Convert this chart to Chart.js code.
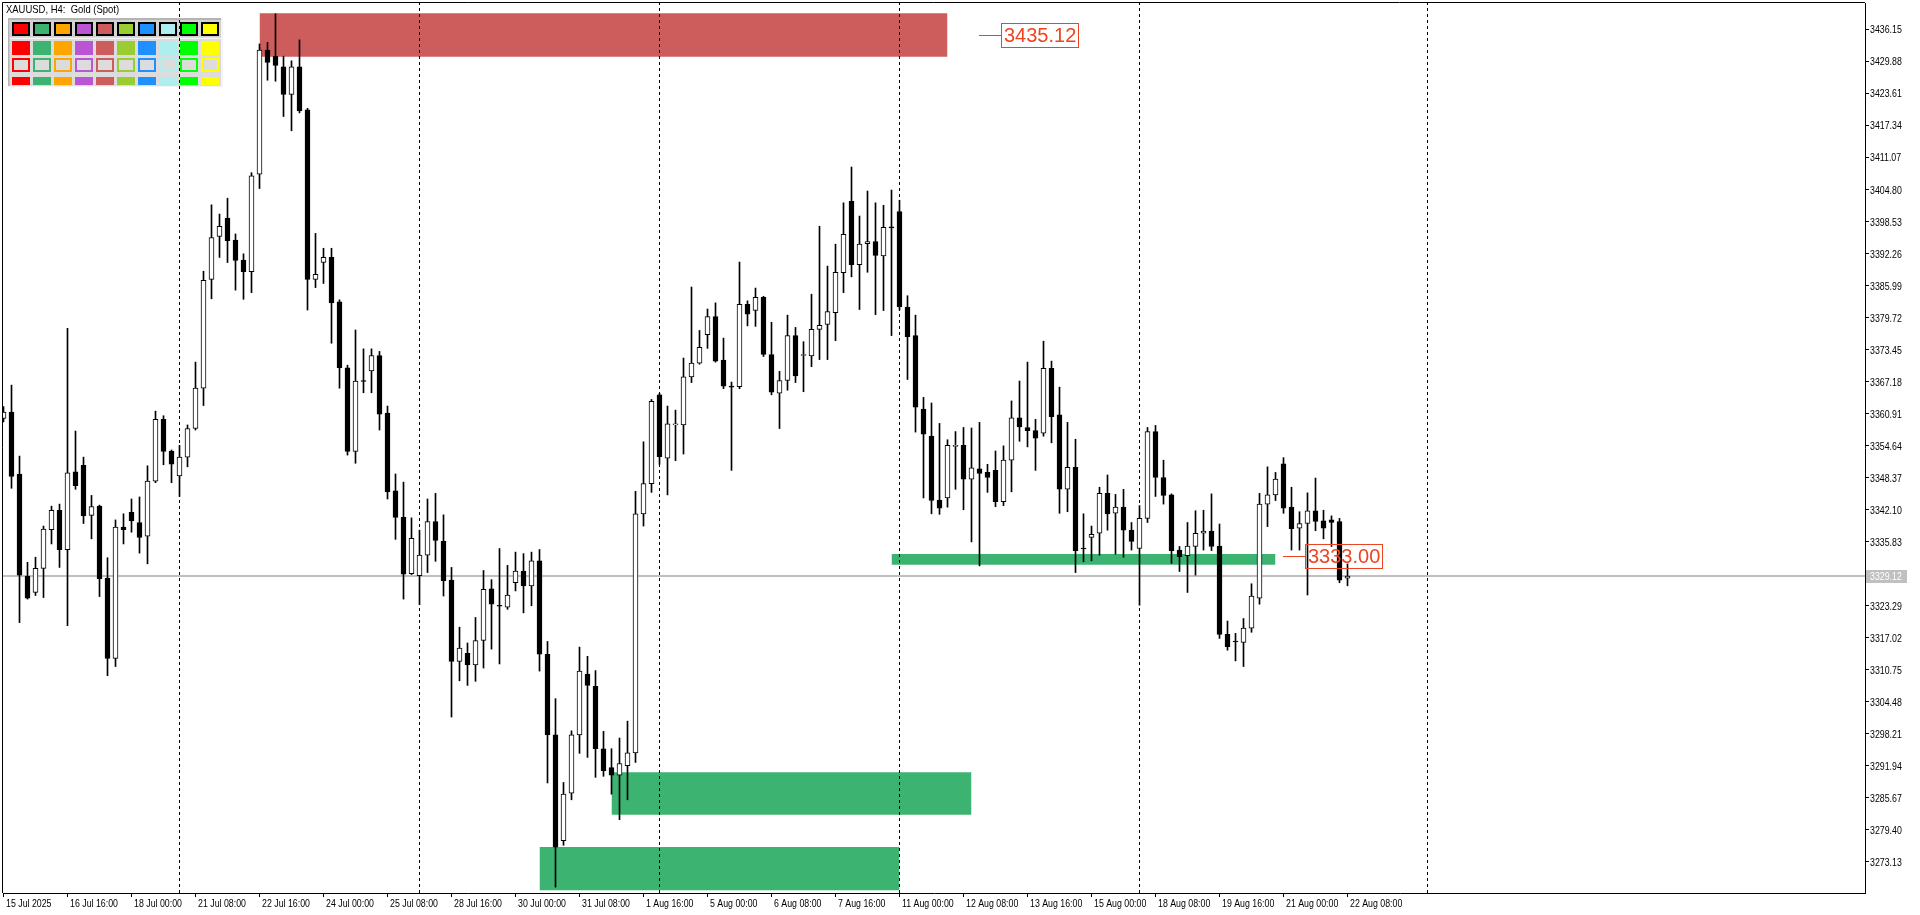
<!DOCTYPE html>
<html><head><meta charset="utf-8">
<script src="https://cdn.jsdelivr.net/npm/chart.js@4.4.1/dist/chart.umd.min.js"></script>
<style>html,body{margin:0;padding:0;background:#fff;overflow:hidden}canvas{display:block}</style>
</head><body>
<canvas id="c" width="1920" height="915"></canvas>
<script>
// ---- DATA (XAUUSD H4, one value per bar) ----
const opens = [
3360.0,3361.2,3349.1,3329.1,3325.9,3330.6,3338.2,3342.0,3334.3,3349.5,
3350.8,3341.0,3342.8,3328.7,3313.0,3338.7,3341.6,3339.6,3336.9,3347.7,
3359.8,3353.6,3348.7,3352.4,3358.0,3365.9,3387.2,3395.6,3399.2,3394.9,
3391.0,3388.7,3407.8,3432.1,3430.9,3428.8,3423.4,3428.8,3420.4,3387.2,
3390.5,3391.5,3382.8,3369.9,3353.5,3367.4,3369.3,3372.3,3361.0,3345.8,
3340.6,3329.6,3329.2,3333.2,3339.8,3335.9,3328.3,3312.4,3314.0,3311.7,
3316.5,3326.6,3323.4,3323.0,3327.8,3330.1,3327.2,3332.1,3313.8,3298.0,
3277.3,3286.6,3298.0,3309.9,3307.5,3295.3,3291.6,3290.1,3292.0,3294.5,
3341.3,3347.2,3364.6,3352.2,3358.7,3358.7,3368.1,3370.8,3376.4,3379.9,
3371.4,3366.3,3366.2,3382.3,3381.1,3383.7,3372.5,3364.9,3367.4,3376.2,
3372.3,3372.2,3377.4,3378.4,3380.7,3388.5,3402.5,3390.1,3394.2,3394.6,
3391.8,3397.5,3400.5,3381.8,3376.2,3361.8,3356.5,3344.0,3344.4,3354.5,
3354.7,3348.1,3350.1,3349.4,3349.8,3343.7,3351.8,3360.1,3358.2,3357.6,
3357.1,3369.8,3360.7,3346.1,3350.4,3334.6,3336.7,3337.5,3345.3,3341.4,
3342.6,3338.1,3334.5,3340.4,3357.4,3348.4,3345.0,3334.2,3333.1,3334.9,
3337.5,3337.9,3335.0,3317.7,3316.4,3316.1,3318.9,3324.8,3343.2,3345.0,
3351.1,3342.6,3338.5,3339.4,3341.9,3339.9,3340.1,3339.8,3328.7];
const highs = [
3362.3,3366.5,3352.6,3331.8,3332.8,3338.9,3342.8,3343.2,3377.6,3357.5,
3352.4,3344.9,3343.0,3332.7,3340.1,3341.3,3344.2,3344.6,3350.7,3361.4,
3360.5,3353.8,3354.7,3358.7,3371.0,3388.8,3401.8,3400.0,3403.1,3396.1,
3392.2,3408.1,3433.3,3433.6,3439.2,3430.9,3430.0,3434.1,3420.7,3396.2,
3393.3,3393.3,3383.2,3370.4,3377.3,3373.6,3373.6,3373.1,3362.4,3349.1,
3347.5,3340.5,3338.1,3344.2,3345.3,3341.1,3330.8,3319.1,3316.0,3321.0,
3330.2,3328.4,3334.5,3331.2,3333.8,3333.5,3333.8,3334.3,3316.3,3305.1,
3288.7,3298.8,3315.2,3313.4,3310.6,3298.7,3295.3,3297.4,3300.7,3345.7,
3355.4,3363.7,3364.9,3362.4,3361.6,3371.8,3385.7,3377.2,3381.4,3382.6,
3375.7,3367.1,3390.6,3383.0,3385.5,3383.9,3378.8,3369.2,3380.2,3377.8,
3375.0,3384.3,3397.6,3389.8,3394.1,3402.2,3409.2,3399.6,3404.5,3402.2,
3401.7,3404.7,3402.7,3384.0,3380.2,3364.1,3363.0,3359.0,3355.8,3357.4,
3358.2,3358.1,3359.2,3351.0,3353.6,3354.6,3363.4,3367.3,3371.0,3359.8,
3375.1,3371.2,3366.1,3359.2,3355.9,3341.3,3338.9,3346.5,3348.9,3345.1,
3346.1,3339.6,3342.9,3358.2,3358.6,3351.8,3345.2,3334.9,3339.6,3341.9,
3342.0,3345.2,3339.3,3320.3,3317.9,3320.8,3327.6,3345.3,3350.5,3349.4,
3352.3,3346.5,3341.7,3345.4,3348.3,3342.0,3340.9,3340.4,3331.5];
const lows = [
3359.3,3346.3,3320.0,3324.6,3325.3,3324.9,3335.4,3330.8,3319.4,3346.1,
3339.4,3336.4,3325.1,3309.6,3311.4,3335.4,3337.7,3333.6,3331.5,3347.4,
3350.9,3347.4,3344.7,3350.5,3357.7,3362.5,3383.4,3391.5,3390.5,3385.1,
3383.3,3384.6,3405.0,3426.2,3426.0,3419.1,3416.3,3419.8,3381.2,3385.6,
3386.4,3374.7,3365.9,3352.8,3351.2,3365.0,3365.0,3357.7,3344.2,3336.3,
3324.6,3329.4,3323.5,3329.8,3332.0,3325.2,3301.5,3308.6,3307.7,3308.5,
3311.1,3314.8,3311.9,3322.6,3326.2,3321.9,3323.3,3310.5,3288.6,3268.2,
3276.4,3285.3,3294.4,3293.6,3289.7,3289.9,3286.4,3281.4,3285.3,3292.6,
3338.9,3345.5,3351.0,3345.0,3351.7,3353.0,3367.0,3370.6,3373.7,3371.0,
3365.8,3349.8,3365.8,3378.1,3378.0,3372.1,3364.6,3358.0,3365.5,3367.0,
3365.2,3370.1,3371.5,3371.5,3375.2,3384.6,3387.7,3381.3,3388.6,3380.3,
3381.1,3376.2,3381.2,3367.6,3357.3,3344.4,3341.3,3341.2,3342.6,3346.1,
3342.1,3335.8,3331.1,3345.5,3342.7,3342.9,3345.6,3355.5,3354.4,3349.8,
3356.5,3355.2,3341.4,3341.7,3329.8,3331.9,3332.1,3333.2,3338.1,3333.4,
3332.8,3334.2,3323.4,3339.6,3344.7,3343.2,3331.6,3330.0,3325.9,3329.3,
3334.2,3334.1,3316.9,3314.6,3312.5,3311.4,3318.1,3323.6,3338.8,3343.9,
3341.4,3334.2,3334.2,3325.4,3338.0,3336.4,3334.9,3327.8,3327.2];
const closes = [
3361.2,3348.6,3329.3,3324.8,3330.6,3338.3,3342.0,3334.3,3349.3,3346.8,
3340.9,3342.7,3328.6,3313.0,3338.7,3338.2,3339.9,3336.7,3347.7,3359.8,
3353.5,3351.0,3352.4,3358.0,3365.9,3387.0,3395.4,3397.6,3394.8,3390.9,
3388.7,3407.5,3432.1,3429.7,3429.1,3423.4,3428.8,3420.2,3387.2,3388.2,
3391.5,3382.6,3369.9,3353.5,3367.3,3367.2,3372.3,3360.8,3345.6,3340.6,
3329.5,3336.5,3333.2,3339.8,3336.1,3328.2,3312.4,3315.0,3311.7,3316.5,
3326.5,3323.6,3323.2,3325.4,3330.1,3327.2,3332.1,3313.8,3298.0,3276.0,
3286.4,3298.0,3310.5,3307.7,3295.3,3291.0,3290.1,3292.4,3294.5,3341.3,
3347.2,3363.3,3352.5,3358.9,3358.9,3368.1,3370.8,3373.9,3379.9,3371.2,
3366.3,3366.1,3382.3,3380.4,3383.7,3372.5,3365.1,3367.4,3376.2,3368.3,
3372.5,3377.4,3378.2,3380.9,3388.6,3396.0,3390.1,3394.1,3394.6,3391.9,
3397.4,3397.3,3381.8,3376.0,3362.2,3356.9,3343.9,3342.4,3354.7,3354.7,
3348.1,3350.3,3349.2,3348.4,3343.7,3351.8,3360.1,3358.3,3357.6,3356.1,
3369.8,3360.3,3346.1,3350.4,3334.1,3334.4,3337.3,3345.3,3341.3,3342.6,
3338.1,3335.9,3340.4,3357.4,3348.4,3344.9,3334.1,3332.9,3335.0,3337.5,
3337.9,3334.9,3317.7,3315.3,3316.2,3318.9,3325.2,3343.2,3345.0,3348.1,
3342.4,3338.4,3339.4,3341.9,3339.8,3338.5,3339.6,3328.3,3329.1];

const xTickBars = [0,8,16,24,32,40,48,56,64,72,80,88,96,104,112,120,128,136,144,152,160,168];
const xTickLabels = ["15 Jul 2025","16 Jul 16:00","18 Jul 00:00","21 Jul 08:00","22 Jul 16:00","24 Jul 00:00",
 "25 Jul 08:00","28 Jul 16:00","30 Jul 00:00","31 Jul 08:00","1 Aug 16:00","5 Aug 00:00","6 Aug 08:00",
 "7 Aug 16:00","11 Aug 00:00","12 Aug 08:00","13 Aug 16:00","15 Aug 00:00","18 Aug 08:00","19 Aug 16:00",
 "21 Aug 00:00","22 Aug 08:00"];
const yTickValues = [3436.15,3429.88,3423.61,3417.34,3411.07,3404.80,3398.53,3392.26,3385.99,3379.72,
 3373.45,3367.18,3360.91,3354.64,3348.37,3342.10,3335.83,3323.29,3317.02,3310.75,3304.48,3298.21,
 3291.94,3285.67,3279.40,3273.13];
const lastPrice = 3329.12;
const separatorBars = [22,52,82,112,142,178];

// zones (bar index range and price range)
const zoneStart  = [32, 111, 76, 67];
const zoneEnd    = [118, 159, 121, 112];
const zoneTop    = [3439.3, 3333.45, 3290.7, 3276.05];
const zoneBottom = [3430.8, 3331.3, 3282.35, 3267.57];
const zoneColor  = ['#CD5C5C','#3CB371','#3CB371','#3CB371'];

// price labels
const labelPrices   = [3435.12, 3333.00];
const labelLineFrom = [121.9, 159.9];
const labelBoxFrom  = [124.7, 162.7];

const panelColors = ['#FF0000','#3CB371','#FFA500','#BA55D3','#CD5C5C','#9ACD32','#1E90FF','#AFEEEE','#00FF00','#FFFF00'];

// ---- scale ranges ----
const XMIN = -0.0625, XMAX = 232.6875;
const YMIN = 3267.05, YMAX = 3441.32;

const AX_FONT = "'Liberation Sans', Arial, sans-serif";
const TEXT_SQUEEZE = 0.8;
const TITLE_SQUEEZE = 0.86;
const LABEL_COLOR = '#EE4422';

const bodyData = opens.map((o,i)=>({x:i, y:[o, closes[i]]}));
const wickData = opens.map((o,i)=>({x:i, y:[lows[i], highs[i]]}));
const bodyFill = opens.map((o,i)=> closes[i] >= o ? '#FFFFFF' : '#000000');

const datasets = [
  {type:'bar', data: bodyData, backgroundColor: bodyFill, borderColor:'#000', borderWidth:1,
   borderSkipped:false, barThickness:5, grouped:false, minBarLength:1, order:0},
  {type:'bar', data: wickData, backgroundColor:'#000', borderWidth:0, barThickness:1, grouped:false, order:1},
  {type:'line', data:[{x:XMIN,y:lastPrice},{x:XMAX,y:lastPrice}], borderColor:'#C0C0C0', borderWidth:2,
   pointRadius:0, fill:false, order:2}
];
separatorBars.forEach(b=>{
  datasets.push({type:'line', data:[{x:b,y:YMIN},{x:b,y:YMAX}], borderColor:'#000', borderWidth:1,
    borderDash:[3,3], pointRadius:0, fill:false, order:3});
});
zoneStart.forEach((s,k)=>{
  datasets.push({type:'line', data:[{x:s,y:zoneTop[k]},{x:zoneEnd[k],y:zoneTop[k]}],
    borderColor:'rgba(0,0,0,0)', borderWidth:1, pointRadius:0, backgroundColor:zoneColor[k],
    fill:{value: zoneBottom[k]}, order:4});
});

function squeezedText(ctx, txt, x, y, sx){
  ctx.save();
  ctx.translate(x, y);
  ctx.scale(sx || TEXT_SQUEEZE, 1);
  ctx.fillText(txt, 0, 0);
  ctx.restore();
}

const deco = {
  id:'deco',
  beforeDatasetsDraw(chart){
    const ctx = chart.ctx;
    ctx.save();
    // title
    ctx.fillStyle='#000';
    ctx.font = "11px " + AX_FONT;
    ctx.textBaseline='top';
    ctx.textAlign='left';
    squeezedText(ctx, 'XAUUSD, H4:  Gold (Spot)', 6, 4, TITLE_SQUEEZE);
    // colour panel
    const px=8, py=18, pw=215, ph=69;
    ctx.fillStyle='#DCDCDC'; ctx.fillRect(px,py,pw,ph);
    ctx.fillStyle='#B4B4B4'; ctx.fillRect(px,py,pw,2); ctx.fillRect(px,py,1.5,ph);
    ctx.fillStyle='#F4F4F4'; ctx.fillRect(px+pw-2,py,2,ph); ctx.fillRect(px,py+ph-1,pw,1);
    ctx.fillStyle='#D2D2D2'; ctx.fillRect(px+2,py+2,pw-4,17);
    ctx.fillStyle='#F4F4F4'; ctx.fillRect(px+2,py+20,pw-4,1);
    panelColors.forEach((c,k)=>{
      const x = 12 + 21*k;
      ctx.fillStyle='#000'; ctx.fillRect(x,22,18,14);
      ctx.fillStyle=c; ctx.fillRect(x+2,24,14,10);
      ctx.fillStyle=c; ctx.fillRect(x,41,18,14);
      ctx.fillStyle=c; ctx.fillRect(x,58,18,14);
      ctx.fillStyle='#DCDCDC'; ctx.fillRect(x+2,60,14,10);
      ctx.fillStyle=c; ctx.fillRect(x,77,18,8);
    });
    ctx.restore();
  },
  afterDatasetsDraw(chart){
    const ctx = chart.ctx, xs = chart.scales.x, ys = chart.scales.y;
    ctx.save();
    labelPrices.forEach((p,k)=>{
      const y = Math.round(ys.getPixelForValue(p)) + 0.5;
      const x0 = Math.round(xs.getPixelForValue(labelLineFrom[k]));
      const x1 = Math.round(xs.getPixelForValue(labelBoxFrom[k]));
      ctx.strokeStyle = LABEL_COLOR; ctx.lineWidth = 1;
      ctx.beginPath(); ctx.moveTo(x0,y); ctx.lineTo(x1,y); ctx.stroke();
      ctx.font = "20px 'Liberation Sans', Arial, sans-serif";
      const txt = p.toFixed(2);
      const w = ctx.measureText(txt).width;
      ctx.strokeRect(x1+0.5, y-12, Math.round(w)+5, 24);
      ctx.fillStyle = LABEL_COLOR;
      ctx.textBaseline='middle'; ctx.textAlign='left';
      ctx.fillText(txt, x1+3, y+1);
    });
    ctx.restore();
  },
  afterDraw(chart){
    const ctx = chart.ctx, a = chart.chartArea, xs = chart.scales.x, ys = chart.scales.y;
    ctx.save();
    ctx.strokeStyle='#000'; ctx.lineWidth=1;
    ctx.beginPath();
    ctx.moveTo(a.left-0.5, a.bottom); ctx.lineTo(a.left-0.5, a.top-0.5); ctx.lineTo(a.right, a.top-0.5);
    ctx.stroke();
    ctx.font = "11px " + AX_FONT;
    ctx.fillStyle = '#000';
    ctx.textAlign = 'left';
    // time axis labels
    ctx.textBaseline = 'top';
    xTickBars.forEach((b,k)=>{
      squeezedText(ctx, xTickLabels[k], Math.round(xs.getPixelForValue(b)) + 2, a.bottom + 5);
    });
    // price axis labels
    ctx.textBaseline = 'middle';
    yTickValues.forEach(v=>{
      squeezedText(ctx, v.toFixed(2), a.right + 5, Math.round(ys.getPixelForValue(v)) + 0.5);
    });
    // current price label on axis
    const y = Math.round(ys.getPixelForValue(lastPrice));
    ctx.fillStyle='#C0C0C0'; ctx.fillRect(a.right+1, y-6, 41, 13);
    ctx.fillStyle='#FFFFFF';
    squeezedText(ctx, lastPrice.toFixed(2), a.right + 5, y + 0.5);
    ctx.restore();
  }
};

Chart.defaults.font.family = AX_FONT;
Chart.defaults.font.size = 11;
Chart.defaults.color = '#000';

new Chart(document.getElementById('c'), {
  type:'bar',
  data:{datasets},
  plugins:[deco],
  options:{
    responsive:false, animation:false, devicePixelRatio:1, events:[],
    layout:{padding:{left:3, top:3, right:0, bottom:0}},
    plugins:{legend:{display:false}, tooltip:{enabled:false}},
    scales:{
      x:{type:'linear', min:XMIN, max:XMAX, offset:false, position:'bottom',
        afterBuildTicks:s=>{ s.ticks = xTickBars.map(v=>({value:v})); },
        afterFit:s=>{ s.height = 22; s.paddingLeft = 0; s.paddingRight = 0; },
        ticks:{display:false, autoSkip:false, maxRotation:0, minRotation:0},
        grid:{drawOnChartArea:false, drawTicks:true, tickLength:4, color:'#000', offset:false},
        border:{display:true, color:'#000', width:1}
      },
      y:{type:'linear', position:'right', min:YMIN, max:YMAX,
        afterBuildTicks:s=>{ s.ticks = yTickValues.map(v=>({value:v})); },
        afterFit:s=>{ s.width = 55; s.paddingTop = 0; s.paddingBottom = 0; },
        ticks:{display:false, autoSkip:false},
        grid:{drawOnChartArea:false, drawTicks:true, tickLength:4, color:'#000'},
        border:{display:true, color:'#000', width:1}
      }
    }
  }
});
</script>
</body></html>
